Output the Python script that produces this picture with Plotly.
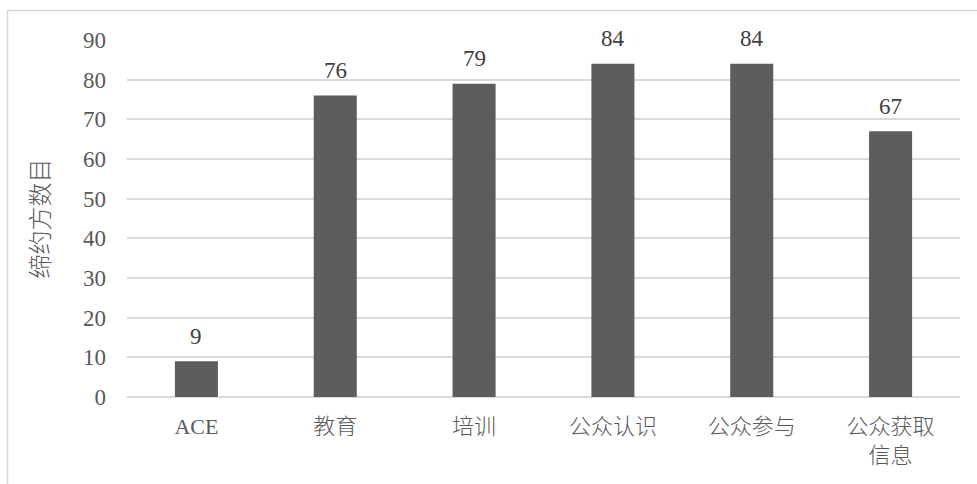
import plotly.graph_objects as go

categories = ["ACE", "教育", "培训", "公众认识", "公众参与", "公众获取<br>信息"]
values = [9, 76, 79, 84, 84, 67]
y_ticks = [0, 10, 20, 30, 40, 50, 60, 70, 80, 90]
y_title = "缔约方数目"

FONT = "Liberation Serif, Noto Sans CJK SC"
NUMFONT = "Liberation Serif"
GREY = "#595959"
BAR = "#5d5d5d"

fig = go.Figure()
fig.add_trace(go.Bar(x=categories, y=values, marker=dict(color=BAR, line=dict(width=0)),
                     width=0.31, hoverinfo="skip"))

for c, v in zip(categories, values):
    fig.add_annotation(x=c, y=v, text=str(v), showarrow=False, yanchor="middle", yshift=25,
                       font=dict(family=NUMFONT, size=23, color="#404040"))

W, H = 977, 484
L, R, T, B = 127, 17, 40, 87
pw, ph = W - L - R, H - T - B
def px(x): return (x - L) / pw
def py(y): return (H - B - y) / ph

fig.add_shape(type="line", xref="paper", yref="paper", x0=px(7), x1=px(980), y0=py(10.5), y1=py(10.5),
              line=dict(color="#d9d9d9", width=1.5))
fig.add_shape(type="line", xref="paper", yref="paper", x0=px(7.5), x1=px(7.5), y0=py(10), y1=py(490),
              line=dict(color="#d9d9d9", width=1.5))

fig.update_layout(
    width=W, height=H, margin=dict(l=L, r=R, t=T, b=B, autoexpand=False),
    plot_bgcolor="white", paper_bgcolor="white", showlegend=False,
    font=dict(family=FONT, color=GREY, size=22),
    bargap=0.69,
)
fig.update_xaxes(showgrid=False, showline=False, zeroline=False, ticks="",
                 tickfont=dict(family=FONT, size=22, color=GREY, weight=300), ticklabelstandoff=14)
fig.update_yaxes(range=[0, 90], tickvals=y_ticks, showgrid=True, gridcolor="#d9d9d9", gridwidth=1.5,
                 zeroline=True, zerolinecolor="#d9d9d9", zerolinewidth=1.5, showline=False,
                 tickfont=dict(family=NUMFONT, size=23, color=GREY), ticklabelstandoff=20,
                 title=dict(text=y_title, font=dict(family="Noto Sans CJK SC", size=24, color=GREY, weight=300),
                            standoff=26))

fig.write_html("out.html")
